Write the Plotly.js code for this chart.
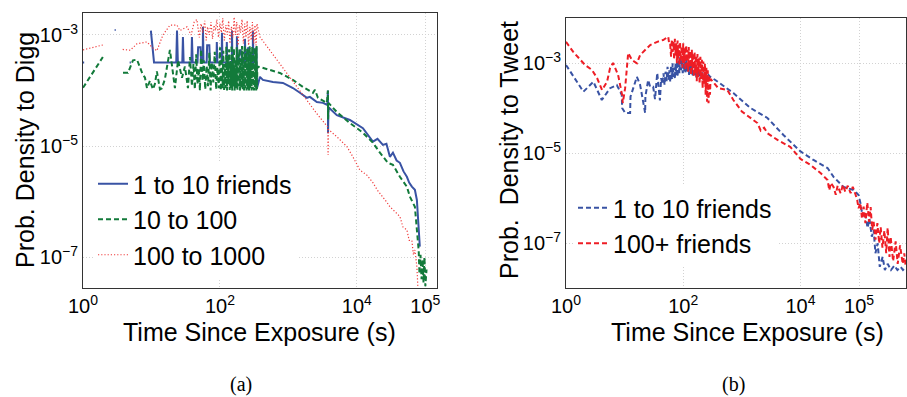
<!DOCTYPE html>
<html>
<head>
<meta charset="utf-8">
<script src="https://cdn.plot.ly/plotly-3.0.1.min.js"></script>
<style>html,body{margin:0;padding:0;background:#fff;}#chart{width:907px;height:397px;}</style>
</head>
<body>
<div id="chart"></div>
<script>
// ---------- DATA ----------
// Panel (a): Digg, [time (s), probability density]
const diggFriends1to10 = [
 [1,3.2e-4],[1.04,3.2e-4],[1.1,null],[2.9,1.23e-3],[3.0,1.23e-3],[3.2,null],[4.8,3.2e-4],[5.0,3.2e-4],[5.5,null],
 [9.8,1.2e-3],[10.9,3.2e-4],[12,3.2e-4],[16.3,3.2e-4],[23,3.2e-4],[23.6,1.2e-3],[24.3,3.2e-4],[28.2,3.2e-4],[28.8,9.2e-4],
 [29.5,3.2e-4],[38.3,3.2e-4],[39,9.2e-4],[40,3.2e-4],[47,3.2e-4],[48,6e-4],[52,6e-4],[53,3.2e-4],[56,3.2e-4],[56.5,1.4e-3],
 [57.5,3.2e-4],[64,3.2e-4],[65,6.5e-4],[70,6.5e-4],[71.5,3.2e-4],[89,3.2e-4],[90,7.5e-4],[92,3.2e-4],[106,3.2e-4],[107,1.1e-3],
 [109,3.2e-4],[125,3.2e-4],[126,7.5e-4],[128,3.2e-4],[149,3.2e-4],[150,1.2e-3],[152,3.2e-4],[176,3.2e-4],[177,9.5e-4],[180,3.2e-4],
 [200,5.5e-4],[215,3.2e-4],[231,3.2e-4],[232,8.5e-4],[236,3.2e-4],[260,6e-4],[280,3.2e-4],[302,3.2e-4],[303,1.2e-3],[308,3.2e-4],
 [330,3.2e-4],[340,6e-4],[347,1.1e-4],
 [384,1.76e-4],[424,1.55e-4],[594,1.43e-4],[832,1.37e-4],[1164,1.11e-4],[1472,9.1e-5],[1862,7.4e-5],[2060,7.7e-5],[2600,6.2e-5],
 [3190,6.0e-5],[3700,5.5e-5],[3776,1.0e-4],[3790,1.7e-5],[3850,5.0e-5],[5100,3.6e-5],[7900,2.95e-5],[12250,2.1e-5],[17130,1.2e-5],
 [20000,1.35e-5],[23990,1.05e-5],[27000,1.1e-5],[30350,6.4e-6],[33600,7.6e-6],[38000,5.5e-6],[42460,5.0e-6],[48000,3.5e-6],
 [53700,2.8e-6],[58000,2.2e-6],[63500,1.86e-6],[70300,1.63e-6],[75200,1.07e-6],[77800,5.4e-7],[80400,2.75e-7],[83000,1.55e-7]
];
const diggFriends10to100 = [
 [1,1.12e-4],[1.4,2.1e-4],[1.95,4.0e-4],[2.4,null],[3.84,2.08e-4],[4.54,2.08e-4],[5.37,3.5e-4],[6.14,3.6e-4],[7.27,2.1e-4],
 [8.04,1.7e-4],[8.6,1.1e-4],[9.5,1.5e-4],[10.5,1.05e-4],[11.2,1.3e-4],[12.0,2.2e-4],[13.3,1.05e-4],[14.2,1.1e-4],[15.7,1.6e-4],
 [18.6,5.4e-4],[19.9,2.7e-4],[22,1.1e-4],[24.4,3.5e-4],[27.9,1.7e-4],[30.8,2.7e-4],[34.1,1.1e-4],[36.5,4e-4],[39,1.2e-4],
 [41,3.0e-4],[43,1.05e-4],[45,4.5e-4],[47,1.3e-4],[49,2.5e-4],[51,1.0e-4],[53,5.5e-4],[56,1.5e-4],[58,3.5e-4],[61,1.05e-4],
 [64,2.8e-4],[67,1.2e-4],[70,4.8e-4],[73,1.0e-4],[76,3.2e-4],[80,1.4e-4],[84,5.0e-4],[88,1.05e-4],[92,2.6e-4],[96,1.1e-4],
 [100,6.0e-4],[103,1.0e-4],[106,3.8e-4],[109,1.1e-4],[112,5.2e-4],[115,1.02e-4],[118,3.0e-4],[121,1.1e-4],[124,6.2e-4],
 [127,1.0e-4],[130,4.2e-4],[133,1.3e-4],[136,5.5e-4],[139,1.02e-4],[142,3.4e-4],[145,1.1e-4],[148,6.5e-4],[151,1.0e-4],
 [154,4.5e-4],[157,1.2e-4],[160,5.8e-4],[164,1.0e-4],[168,3.6e-4],[172,1.1e-4],[176,6.0e-4],[180,1.02e-4],[184,4.4e-4],
 [188,1.2e-4],[192,5.6e-4],[196,1.0e-4],[200,3.8e-4],[205,1.1e-4],[210,6.3e-4],[215,1.05e-4],[220,5.0e-4],[225,1.0e-4],
 [230,6.6e-4],[235,1.1e-4],[240,4.8e-4],[245,1.0e-4],[250,6.0e-4],[255,1.05e-4],[260,5.4e-4],[266,1.0e-4],[272,6.4e-4],
 [278,1.1e-4],[284,5.0e-4],[290,1.0e-4],[296,6.2e-4],[302,1.05e-4],[308,4.6e-4],[314,1.0e-4],[320,6.0e-4],[326,1.1e-4],
 [332,5.2e-4],[338,1.0e-4],[343,6.3e-4],[347,1.05e-4],[352,2.7e-4],
 [384,2.65e-4],[752,2.07e-4],[1164,1.55e-4],[1629,1.16e-4],[2280,9.1e-5],[2440,1.03e-4],[2700,7.4e-5],[3650,6.0e-5],
 [3776,1.0e-4],[3790,3.0e-5],[3850,6e-5],[5100,4.1e-5],[7900,2.6e-5],[12250,1.74e-5],[17130,1.15e-5],[21700,7.6e-6],
 [28400,5.0e-6],[33600,4.6e-6],[42460,2.8e-6],[53700,1.86e-6],[59400,1.23e-6],[70300,8.1e-7],[75200,3.5e-7],[77800,2.0e-7],
 [80000,1.3e-7],[82000,5e-8],[85000,1.1e-7],[88000,4e-8],[91000,9e-8],[94000,3.5e-8],[97000,1.0e-7],[100000,3e-8],[104000,6e-8]
];
const diggFriends100to1000 = [
 [1,5.4e-4],[1.4,6.0e-4],[1.95,6.6e-4],[2.5,null],[3.8,5.5e-4],[4.9,5.3e-4],[6.1,6.9e-4],[7.3,7.1e-4],[8.6,7.5e-4],
 [10.2,6.0e-4],[12,5.2e-4],[14.7,1.0e-3],[18.6,1.5e-3],[23.6,1.5e-3],[26,1.2e-3],[33,1.4e-3],[38,1.0e-3],[42,1.7e-3],
 [46,1.9e-3],[50,9e-4],[53,1.6e-3],[56,1.1e-3],[60,1.8e-3],[63,8e-4],[66,1.4e-3],[70,1.0e-3],[74,1.7e-3],[78,8.5e-4],
 [82,1.5e-3],[86,1.2e-3],[90,1.9e-3],[95,9e-4],[100,1.6e-3],[105,1.1e-3],[110,2.0e-3],[116,8e-4],[122,1.5e-3],[128,1.0e-3],
 [134,1.8e-3],[140,7e-4],[147,1.4e-3],[154,9e-4],[161,2.1e-3],[168,1.0e-3],[176,1.7e-3],[184,6.5e-4],[192,1.5e-3],
 [200,1.1e-3],[210,1.9e-3],[220,7e-4],[230,1.6e-3],[240,9e-4],[250,1.8e-3],[262,6.5e-4],[274,1.4e-3],[286,8e-4],
 [298,1.7e-3],[312,7e-4],[325,1.5e-3],[337,6.5e-4],[347,1.6e-3],
 [384,9.2e-4],[635,4.0e-4],[1052,1.76e-4],[1742,7.7e-5],[2700,3.6e-5],[3776,2.2e-5],[3800,6.9e-6],[3830,2.0e-5],
 [5100,1.47e-5],[7150,9.8e-6],[8750,6.4e-6],[11060,3.7e-6],[14000,3.0e-6],[17130,2.2e-6],[20000,1.6e-6],[23990,1.23e-6],
 [27000,1.0e-6],[30350,8.1e-7],[36000,6.5e-7],[42460,5.4e-7],[47000,3.5e-7],[53700,3.1e-7],[58000,2.0e-7],[63500,2.0e-7],
 [67000,1.1e-7],[70300,1.35e-7],[75200,6.7e-8],[77800,2.9e-8]
];
// Panel (b): Twitter, [time (s), probability density]
const tweetFriends1to10 = [
 [1,9.2e-4],[1.98,2.34e-4],[2.93,3.9e-4],[4.08,1.53e-4],[5.65,2.8e-4],[7.36,3.3e-4],[8.95,1.98e-4],[9.06,1.02e-4],
 [10.2,7.9e-5],[11.5,7.9e-5],[12.4,7.9e-5],[12.6,1.81e-4],[16.2,5.0e-4],[18.4,3.3e-4],[22.4,7.9e-5],[22.6,1.81e-4],
 [25.2,4.25e-4],[27.3,3.0e-4],[30.7,3.0e-4],[33,1.6e-4],[36,6.1e-4],[38,3.0e-4],[40,1.5e-4],[42,4.7e-4],[44,3.5e-4],
 [46,6e-4],[48,3.3e-4],[50,6.5e-4],[52,4e-4],[54,8.4e-4],[56,4.25e-4],[58,7e-4],[60,3.8e-4],[62,9e-4],[64,4.5e-4],
 [66,1.0e-3],[68,5e-4],[70,8e-4],[72,4.5e-4],[74,1.0e-3],[76,5.5e-4],[78,1.1e-3],[80,5e-4],[83,1.2e-3],[86,6e-4],
 [89,1.4e-3],[92,7e-4],[95,1.2e-3],[98,6e-4],[101,1.3e-3],[104,6.5e-4],[107,1.1e-3],[110,6e-4],[114,1.2e-3],[118,6.5e-4],
 [122,1.0e-3],[126,5.5e-4],[130,1.05e-3],[135,6e-4],[140,9e-4],[145,5e-4],[150,9e-4],[156,5.5e-4],[162,8e-4],[168,4.5e-4],
 [175,7.5e-4],[182,5e-4],[190,7e-4],[200,4.5e-4],[210,6.5e-4],[222,4.2e-4],[235,6e-4],[250,4.5e-4],[270,5.5e-4],[289,5.0e-4],
 [352,4.25e-4],[716,2.19e-4],[1397,1.02e-4],[2728,6.1e-5],
 [5118,2.55e-5],[10000,1.1e-5],[16680,7.1e-6],[28960,4.7e-6],[36650,3.0e-6],[54300,1.78e-6],[80500,1.53e-6],[98000,1.18e-6],
 [105000,8e-7],[114800,4.0e-7],[125000,5e-7],[139700,2.2e-7],[150000,3.5e-7],[165000,1.4e-7],[177000,2.0e-7],[190000,6e-8],
 [207100,1.0e-7],[225000,3.0e-8],[252300,5e-8],[275000,2.55e-8],[307000,3.5e-8],[350000,2.55e-8],[400000,3.2e-8],
 [450000,2.55e-8],[512000,3.0e-8],[560000,2.55e-8],[623000,2.97e-8]
];
const tweetFriends100plus = [
 [1,3.0e-3],[1.32,1.81e-3],[2.11,9.2e-4],[2.78,7.1e-4],[3.39,4.7e-4],[4.12,2.55e-4],[5.02,3.9e-4],[5.65,7.9e-4],
 [6.36,1.02e-3],[7.74,5.5e-4],[9.06,1.98e-4],[9.3,1.31e-4],[10.2,2.8e-4],[11.5,1.69e-3],[13.4,1.18e-3],[16.2,1.0e-3],
 [18.4,1.53e-3],[22.4,1.98e-3],[27.3,2.55e-3],[36,3.0e-3],[45.5,3.3e-3],[55.4,3.9e-3],[58,2.55e-3],
 [60,2.6e-3],[62,1.4e-3],[64,3.4e-3],[66,1.8e-3],[68,3.0e-3],[70,1.2e-3],[72,3.5e-3],[74,1.5e-3],[76,2.8e-3],[78,1.0e-3],
 [80,3.2e-3],[82,1.3e-3],[84,2.6e-3],[86,9e-4],[88,3.0e-3],[91,1.2e-3],[94,2.4e-3],[97,8e-4],[100,2.8e-3],[103,1.0e-3],
 [106,2.2e-3],[109,7e-4],[112,2.5e-3],[115,9e-4],[118,2.0e-3],[121,6.5e-4],[124,2.3e-3],[128,8e-4],[132,1.9e-3],[136,5.5e-4],
 [140,2.0e-3],[144,7e-4],[148,1.7e-3],[152,5e-4],[156,1.8e-3],[160,6e-4],[165,1.5e-3],[170,4e-4],[175,1.6e-3],[180,5e-4],
 [185,1.3e-3],[190,3.5e-4],[196,1.4e-3],[202,4.5e-4],[208,1.2e-3],[214,2.8e-4],[220,1.1e-3],[227,3.5e-4],[234,1.0e-3],
 [241,2.0e-4],[248,8e-4],[255,1.4e-4],[262,7e-4],[270,1.3e-4],[278,5.5e-4],[286,2.0e-4],[292,4.5e-4],
 [396,2.8e-4],[565,2.55e-4],[716,1.53e-4],[1000,8.5e-5],[1397,6.1e-5],
 [1841,4.7e-5],[2100,3.2e-5],[2400,3.7e-5],[2728,2.8e-5],[4045,1.98e-5],[6745,1.38e-5],[10000,7.5e-6],[14830,5.5e-6],
 [21970,3.65e-6],[28960,2.55e-6],[31000,1.5e-6],[33000,2.2e-6],[36650,1.78e-6],[40000,1.2e-6],[43000,1.9e-6],[48300,1.3e-6],
 [53000,2.0e-6],[58000,1.4e-6],[64000,1.9e-6],[71600,1.3e-6],[78000,1.8e-6],[87100,1.2e-6],[93000,9e-7],[98000,6e-7],
 [105000,7.9e-7],[112000,3.5e-7],[119400,6.5e-7],[128000,2.8e-7],[138000,8.0e-7],[148000,3.0e-7],[157300,6.4e-7],
 [167000,2.0e-7],[177000,3.0e-7],[190000,1.2e-7],[205000,2.8e-7],[220000,1.0e-7],[233300,2.3e-7],[250000,8e-8],
 [270000,1.9e-7],[290000,6e-8],[307000,2.2e-7],[330000,5e-8],[345300,1.4e-7],[380000,4e-8],[420000,1.1e-7],[455000,3.5e-8],
 [500000,9e-8],[554000,3.5e-8],[590000,6e-8],[623000,3e-8]
];
const xTickVals = [1, 100, 10000, 100000];
const xTickText = ['10<sup>0</sup>', '10<sup>2</sup>', '10<sup>4</sup>', '10<sup>5</sup>'];
const yTickVals = [1e-3, 1e-5, 1e-7];
const yTickText = ['10<sup>\u22123</sup>', '10<sup>\u22125</sup>', '10<sup>\u22127</sup>'];
const legendA = ['1 to 10 friends', '10 to 100', '100 to 1000'];
const legendB = ['1 to 10 friends', '100+ friends'];

// ---------- BUILD ----------
const W = 907, H = 397;
const px = v => v / W, py = v => 1 - v / H;
const xs = s => s.map(p => p[0]);
const ys = s => s.map(p => p[1]);

function line(series, name, color, width, dash, xa, ya, leg) {
  return { x: xs(series), y: ys(series), name: name, mode: 'lines', type: 'scatter',
    xaxis: xa, yaxis: ya, legend: leg, connectgaps: false,
    line: { color: color, width: width, dash: dash }, hoverinfo: 'skip' };
}

const traces = [
  line(diggFriends1to10, legendA[0], '#3953a4', 2, 'solid', 'x', 'y', 'legend'),
  line(diggFriends10to100, legendA[1], '#127a3a', 2, '5px,3px', 'x', 'y', 'legend'),
  line(diggFriends100to1000, legendA[2], '#f03c3c', 1.2, '1.2px,2px', 'x', 'y', 'legend'),
  line(tweetFriends1to10, legendB[0], '#3953a4', 2, '5px,3px', 'x2', 'y2', 'legend2'),
  line(tweetFriends100plus, legendB[1], '#ee1d25', 2, '5px,3px', 'x2', 'y2', 'legend2')
];

const axCommon = {
  type: 'log', showgrid: true, gridcolor: '#d2d2d2', griddash: '1px,2px', gridwidth: 1,
  showline: true, mirror: true, linecolor: '#333', linewidth: 1, ticks: '',
  zeroline: false, tickfont: { size: 20, color: '#000' }
};
const fontFam = 'Liberation Sans, Arial, Helvetica, sans-serif';

const layout = {
  width: W, height: H, margin: { l: 0, r: 0, t: 0, b: 0 },
  paper_bgcolor: '#fff', plot_bgcolor: '#fff',
  font: { family: fontFam, color: '#000' },
  showlegend: true,
  xaxis: Object.assign({}, axCommon, { domain: [px(83), px(437)], range: [0, 5.17], anchor: 'y',
    tickmode: 'array', tickvals: xTickVals, ticktext: xTickText }),
  yaxis: Object.assign({}, axCommon, { domain: [py(288.3), py(13.3)], range: [-7.56, -2.61], anchor: 'x',
    tickmode: 'array', tickvals: yTickVals, ticktext: yTickText }),
  xaxis2: Object.assign({}, axCommon, { domain: [px(566), px(906)], range: [0, 5.8], anchor: 'y2',
    tickmode: 'array', tickvals: xTickVals, ticktext: xTickText }),
  yaxis2: Object.assign({}, axCommon, { domain: [py(288.3), py(18.3)], range: [-8, -2], anchor: 'x2',
    tickmode: 'array', tickvals: yTickVals, ticktext: yTickText }),
  legend: { x: px(93), y: py(161), xanchor: 'left', yanchor: 'top', bgcolor: '#fff', borderwidth: 0,
    font: { size: 25, family: fontFam }, tracegroupgap: 0 },
  legend2: { x: px(573), y: py(185), xanchor: 'left', yanchor: 'top', bgcolor: '#fff', borderwidth: 0,
    font: { size: 25, family: fontFam }, tracegroupgap: 0 },
  annotations: [
    { text: 'Time Since Exposure (s)', x: px(259), y: py(332), xref: 'paper', yref: 'paper',
      xanchor: 'center', yanchor: 'middle', showarrow: false, font: { size: 25 } },
    { text: 'Time Since Exposure (s)', x: px(747), y: py(332), xref: 'paper', yref: 'paper',
      xanchor: 'center', yanchor: 'middle', showarrow: false, font: { size: 25 } },
    { text: 'Prob. Density to Digg', x: px(25), y: py(150), xref: 'paper', yref: 'paper', textangle: -90,
      xanchor: 'center', yanchor: 'middle', showarrow: false, font: { size: 25 } },
    { text: 'Prob.\u00a0 Density to Tweet', x: px(509), y: py(150), xref: 'paper', yref: 'paper', textangle: -90,
      xanchor: 'center', yanchor: 'middle', showarrow: false, font: { size: 25 } },
    { text: '(a)', x: px(241), y: py(384), xref: 'paper', yref: 'paper', xanchor: 'center', yanchor: 'middle',
      showarrow: false, font: { size: 20, family: 'Liberation Serif, DejaVu Serif, serif' } },
    { text: '(b)', x: px(733), y: py(384), xref: 'paper', yref: 'paper', xanchor: 'center', yanchor: 'middle',
      showarrow: false, font: { size: 20, family: 'Liberation Serif, DejaVu Serif, serif' } }
  ]
};

Plotly.newPlot('chart', traces, layout, { staticPlot: true, displayModeBar: false });
</script>
</body>
</html>
